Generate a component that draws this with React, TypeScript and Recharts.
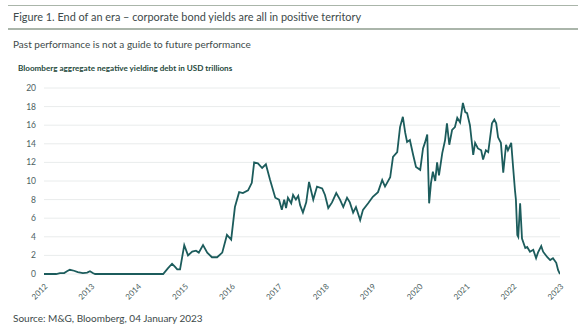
import React from "react";
import { LineChart, Line, XAxis, YAxis, CartesianGrid } from "recharts";

const title = "Figure 1. End of an era – corporate bond yields are all in positive territory";
const subtitle = "Past performance is not a guide to future performance";
const axisTitle = "Bloomberg aggregate negative yielding debt in USD trillions";
const source = "Source: M&G, Bloomberg, 04 January 2023";

const xTicks = [2012, 2013, 2014, 2015, 2016, 2017, 2018, 2019, 2020, 2021, 2022, 2023];
const yTicks = [0, 2, 4, 6, 8, 10, 12, 14, 16, 18, 20];

const dates = [
  2012.0, 2012.26, 2012.34, 2012.43, 2012.49, 2012.55, 2012.64, 2012.72, 2012.83, 2012.92,
  2012.98, 2013.04, 2013.09, 2014.54, 2014.64, 2014.73, 2014.79, 2014.84, 2014.9, 2014.99,
  2015.07, 2015.16, 2015.24, 2015.3, 2015.39, 2015.48, 2015.58, 2015.69, 2015.8, 2015.9,
  2015.99, 2016.07, 2016.16, 2016.24, 2016.35, 2016.43, 2016.48, 2016.56, 2016.65, 2016.73,
  2016.82, 2016.93, 2017.01, 2017.07, 2017.12, 2017.16, 2017.2, 2017.27, 2017.31, 2017.37,
  2017.42, 2017.46, 2017.52, 2017.59, 2017.65, 2017.74, 2017.82, 2017.93, 2017.99, 2018.06,
  2018.14, 2018.23, 2018.31, 2018.38, 2018.46, 2018.52, 2018.59, 2018.65, 2018.74, 2018.8,
  2018.91, 2019.01, 2019.12, 2019.21, 2019.27, 2019.38, 2019.44, 2019.53, 2019.59, 2019.65,
  2019.7, 2019.74, 2019.8, 2019.87, 2019.93, 2020.02, 2020.08, 2020.12, 2020.17, 2020.21,
  2020.25, 2020.29, 2020.34, 2020.38, 2020.42, 2020.49, 2020.55, 2020.59, 2020.64, 2020.7,
  2020.76, 2020.81, 2020.87, 2020.93, 2020.98, 2021.02, 2021.08, 2021.15, 2021.19, 2021.25,
  2021.32, 2021.36, 2021.42, 2021.47, 2021.55, 2021.6, 2021.64, 2021.68, 2021.74, 2021.79,
  2021.85, 2021.89, 2021.96, 2022.0, 2022.04, 2022.06, 2022.09, 2022.11, 2022.15, 2022.19,
  2022.26, 2022.3, 2022.36, 2022.43, 2022.49, 2022.53, 2022.6, 2022.64, 2022.73, 2022.79,
  2022.85, 2022.92, 2022.96, 2023.0,
];

const debt = [
  0, 0, 0.1, 0.1, 0.3, 0.45, 0.35, 0.2, 0.1, 0.15,
  0.3, 0.1, 0, 0, 0.6, 1.1, 0.8, 0.5, 0.5, 3.1,
  2.0, 2.4, 2.5, 2.3, 3.1, 2.3, 1.8, 1.8, 2.3, 4.2,
  3.7, 7.2, 8.8, 8.7, 9.0, 9.8, 12.0, 11.9, 11.4, 11.8,
  10.1, 8.2, 8.0, 6.9, 8.0, 7.1, 8.2, 7.6, 8.5, 8.0,
  8.4, 7.4, 6.6, 7.7, 9.9, 8.0, 9.4, 9.2, 8.5, 7.1,
  7.7, 8.7, 8.0, 7.2, 8.2, 7.7, 6.6, 7.2, 5.8, 6.9,
  7.6, 8.3, 8.8, 10.1, 9.4, 10.4, 12.6, 13.1, 15.8, 16.9,
  15.2, 14.2, 14.4, 12.8, 11.5, 11.2, 13.5, 14.1, 15.0, 7.6,
  9.8, 11.0, 10.0, 12.0, 10.6, 13.0, 14.4, 16.2, 13.9, 15.5,
  15.8, 16.8, 16.3, 18.4, 17.4, 17.3, 16.0, 12.8, 14.1, 13.5,
  13.3, 12.3, 13.3, 13.1, 16.2, 16.6, 16.2, 14.7, 14.1, 10.9,
  13.9, 13.3, 14.1, 11.5, 9.0, 8.0, 4.2, 4.0, 7.6, 3.8,
  2.8, 2.9, 2.4, 2.6, 1.7, 2.3, 3.0, 2.4, 1.8, 1.5,
  1.7, 1.2, 0.4, 0,
];

const data = dates.map((t, i) => ({ t, v: debt[i] }));

const FONT = "Lato, 'Noto Sans', sans-serif";
const TEXT = "#3d4a4a";
const TICK = "#4d5f5f";
const LINE = "#1c5c5c";

export default function App() {
  return (
    <div
      style={{
        position: "absolute",
        left: 0,
        top: 0,
        width: 585,
        height: 328,
        background: "#ffffff",
        fontFamily: FONT,
        overflow: "hidden",
      }}
    >
      <div style={{ position: "absolute", left: 8, top: 5, width: 570, height: 1, background: "#aab5aa" }} />
      <div
        style={{
          position: "absolute",
          left: 13,
          top: 10,
          fontSize: 10.9,
          color: TEXT,
          whiteSpace: "nowrap",
          lineHeight: "14px",
        }}
      >
        {title}
      </div>
      <div style={{ position: "absolute", left: 8, top: 28, width: 570, height: 1.5, background: "#aab5aa" }} />
      <div
        style={{
          position: "absolute",
          left: 13,
          top: 37,
          fontSize: 10,
          color: TEXT,
          whiteSpace: "nowrap",
          lineHeight: "14px",
        }}
      >
        {subtitle}
      </div>
      <div
        style={{
          position: "absolute",
          left: 18,
          top: 63,
          fontSize: 8.1,
          fontWeight: 700,
          color: "#1f4a3c",
          whiteSpace: "nowrap",
          lineHeight: "11px",
        }}
      >
        {axisTitle}
      </div>
      <div
        style={{
          position: "absolute",
          left: 13,
          top: 311,
          fontSize: 10,
          color: TEXT,
          whiteSpace: "nowrap",
          lineHeight: "14px",
        }}
      >
        {source}
      </div>
      <div style={{ position: "absolute", left: 0, top: 0 }}>
        <LineChart
          width={585}
          height={328}
          data={data}
          margin={{ top: 88, right: 25, bottom: 24, left: 14 }}
        >
          <CartesianGrid horizontal={true} vertical={false} stroke="#e9ecec" strokeWidth={1} />
          <XAxis
            dataKey="t"
            type="number"
            domain={[2012, 2023]}
            ticks={xTicks}
            interval={0}
            height={30}
            axisLine={false}
            tickLine={false}
            tickSize={0}
            tickMargin={9}
            angle={-45}
            textAnchor="end"
            tick={{ fill: TICK, fontSize: 8, fontFamily: FONT }}
            allowDataOverflow
          />
          <YAxis
            type="number"
            domain={[0, 20]}
            ticks={yTicks}
            interval={0}
            width={30}
            axisLine={false}
            tickLine={false}
            tickSize={0}
            tickMargin={8}
            tick={{ fill: TICK, fontSize: 8.5, fontFamily: FONT }}
          />
          <Line
            type="linear"
            dataKey="v"
            stroke={LINE}
            strokeWidth={1.8}
            dot={false}
            isAnimationActive={false}
          />
        </LineChart>
      </div>
    </div>
  );
}
